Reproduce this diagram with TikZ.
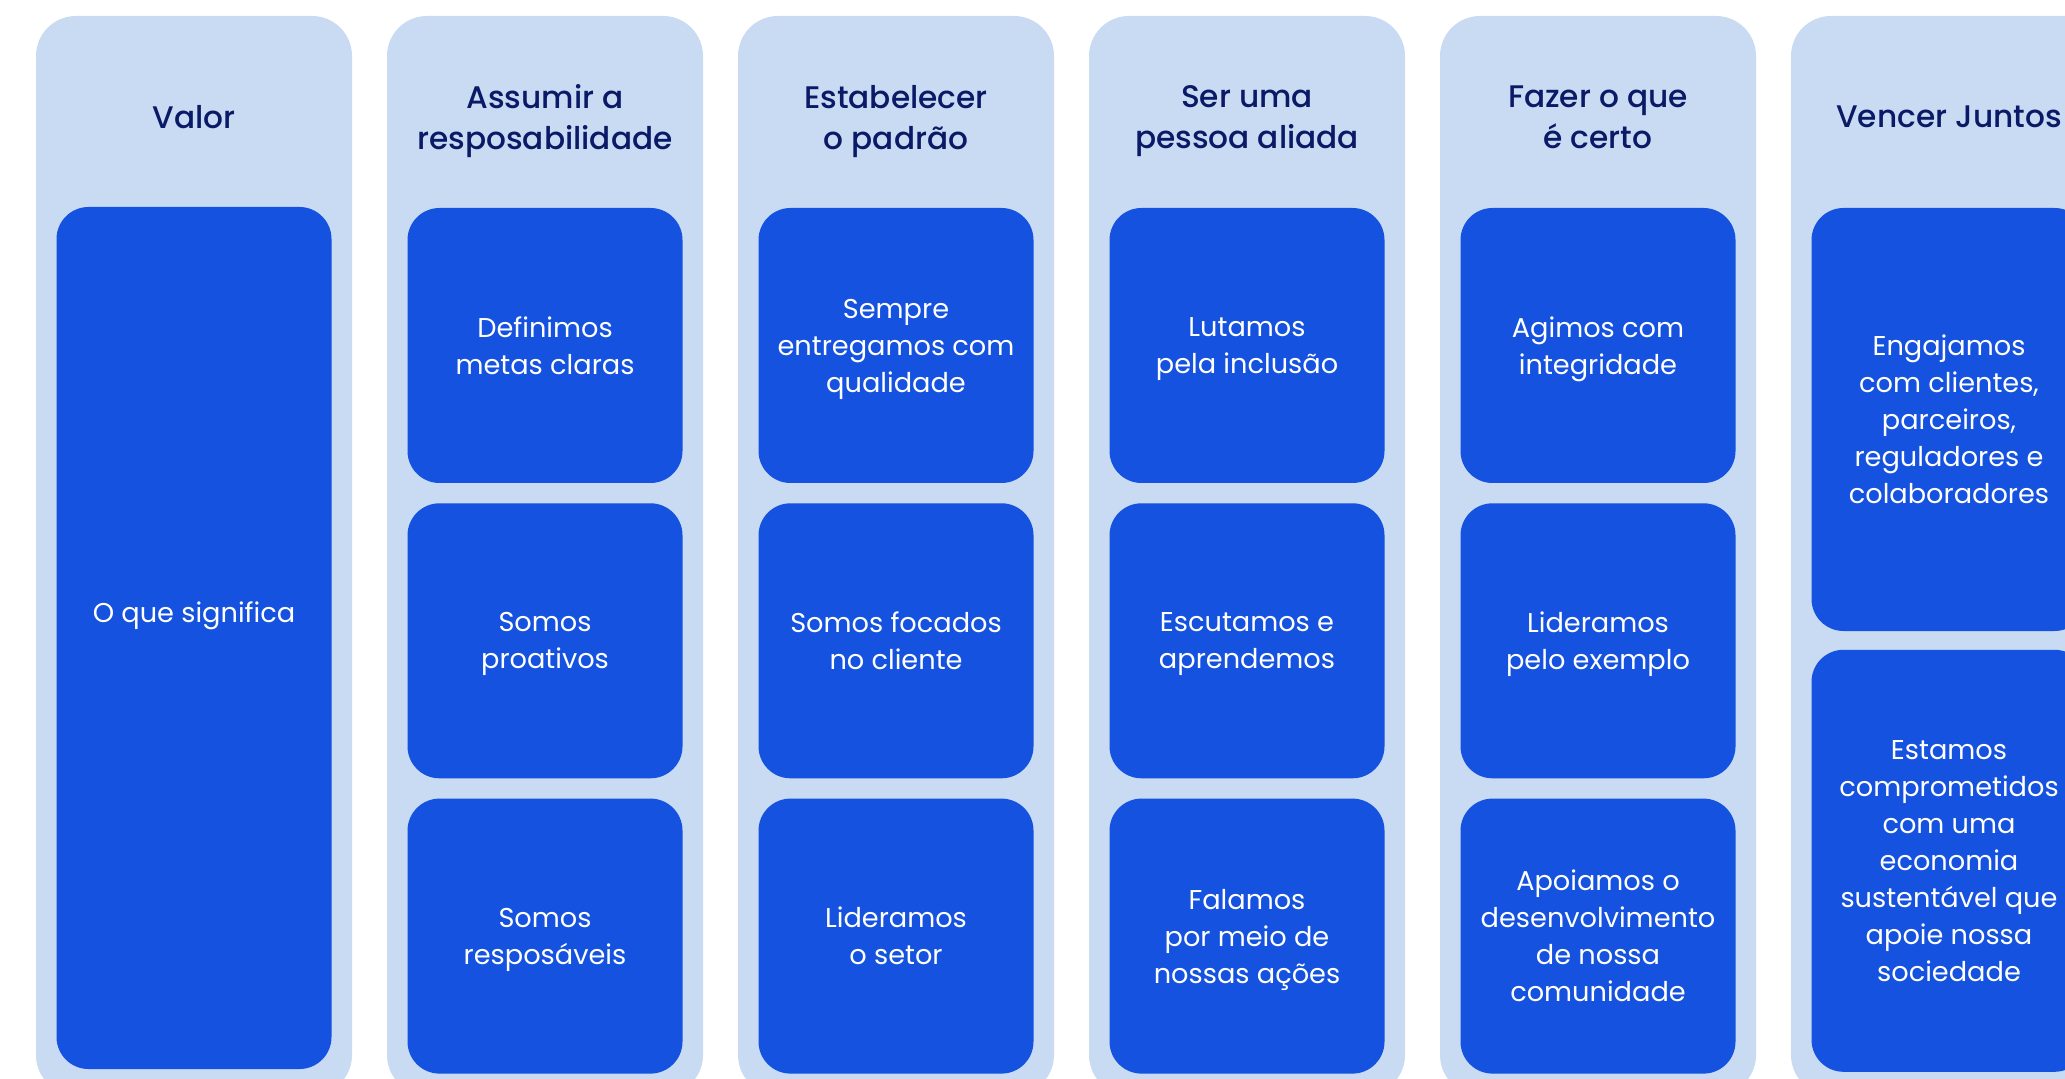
\documentclass[tikz,border=0pt]{standalone}
\usepackage{fontspec}
\setmainfont{Poppins}[BoldFont={Poppins Medium}]
\usetikzlibrary{positioning}

\definecolor{paleblue}{HTML}{C8DBF3}
\definecolor{boxblue}{HTML}{1452DF}
\definecolor{navy}{HTML}{0A1A66}

\tikzset{
  pillar/.style={fill=paleblue, rounded corners=20pt, minimum width=158pt,
    minimum height=539.5pt, inner sep=0pt},
  heading/.style={text=navy, font=\bfseries\fontsize{15.6}{20.5}\selectfont,
    align=center, text depth=0pt},
  cardtext/.style={text=white, align=center, font=\fontsize{13.6}{18.5}\selectfont},
  card/.style={cardtext, fill=boxblue, rounded corners=16pt, minimum width=137.5pt,
    minimum height=137.5pt, inner sep=2pt, text depth=0pt,
    execute at begin node={\rule{0pt}{#1}}},
  card/.default=14pt,
}

\begin{document}
\begin{tikzpicture}[x=0.5pt, y=-0.5pt, node distance=9.75pt]
   \clip (0,0) rectangle (2065,1079);

   % Background columns
   \node[pillar] (col1) at (194,555.5) {};
   \node[pillar] (col2) at (545,555.5) {};
   \node[pillar] (col3) at (896,555.5) {};
   \node[pillar] (col4) at (1247,555.5) {};
   \node[pillar] (col5) at (1598,555.5) {};
   \node[pillar] (col6) at (1949,555.5) {};

   % Headings
   \node[heading] (h1) at (194,117) {Valor};
   \node[heading] (h2) at (545,117) {Assumir a\\resposabilidade};
   \node[heading] (h3) at (896,117) {Estabelecer\\o padrão};
   \node[heading] (h4) at (1247,117) {Ser uma\\pessoa aliada};
   \node[heading] (h5) at (1598,117) {Fazer o que\\é certo};
   \node[heading] (h6) at (1949,117) {Vencer Juntos};

   % Valor
   \node[card, minimum height=431pt] (v1) at (194,638) {};
   \node[cardtext] (v1txt) at (194,616) {O que significa};

   % Assumir a resposabilidade
   \node[card] (a1) at (545,345.5) {Definimos\\metas claras};
   \node[card] (a2) [below=of a1] {Somos\\proativos};
   \node[card] (a3) [below=of a2] {Somos\\resposáveis};

   % Estabelecer o padrao
   \node[card] (e1) at (896,345.5) {Sempre\\entregamos com\\qualidade};
   \node[card] (e2) [below=of e1] {Somos focados\\no cliente};
   \node[card] (e3) [below=of e2] {Lideramos\\o setor};

   % Ser uma pessoa aliada
   \node[card] (s1) at (1247,345.5) {Lutamos\\pela inclusão};
   \node[card] (s2) [below=of s1] {Escutamos e\\aprendemos};
   \node[card] (s3) [below=of s2] {Falamos\\por meio de\\nossas ações};

   % Fazer o que e certo
   \node[card] (f1) at (1598,345.5) {Agimos com\\integridade};
   \node[card] (f2) [below=of f1] {Lideramos\\pelo exemplo};
   \node[card] (f3) [below=of f2] {Apoiamos o\\desenvolvimento\\de nossa\\comunidade};

   % Vencer Juntos
   \node[card=20pt, minimum height=211.5pt] (j1) at (1949,419.5)
      {Engajamos\\com clientes,\\parceiros,\\reguladores e\\colaboradores};
   \node[card, minimum height=211pt] (j2) [below=9pt of j1]
      {Estamos\\comprometidos\\com uma\\economia\\sustentável que\\apoie nossa\\sociedade};
\end{tikzpicture}
\end{document}
